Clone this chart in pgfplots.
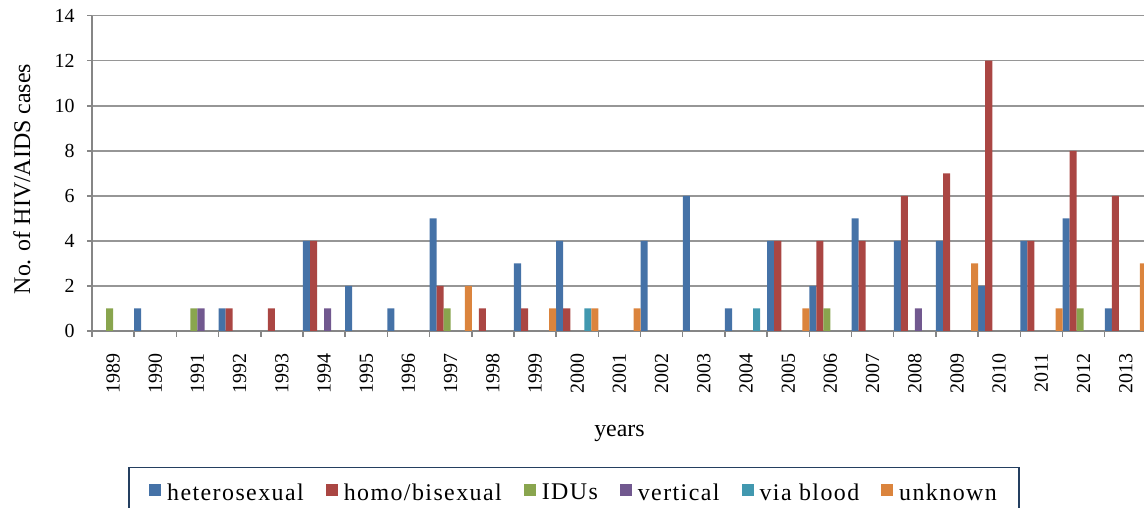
\documentclass[border=0pt]{standalone}
\usepackage{fontspec}
\setmainfont{Liberation Serif}
\newfontfamily\legfont{Liberation Serif}[LetterSpace=6]
\usepackage{pgfplots}
\pgfplotsset{compat=1.18}
\definecolor{cHet}{HTML}{4572A7}
\definecolor{cHom}{HTML}{AA4643}
\definecolor{cIDU}{HTML}{89A54E}
\definecolor{cVer}{HTML}{71588F}
\definecolor{cBlo}{HTML}{4198AF}
\definecolor{cUnk}{HTML}{DB843D}
\definecolor{axgray}{RGB}{134,134,134}
\definecolor{gridgray}{RGB}{150,150,150}
\definecolor{legborder}{HTML}{243F60}
\begin{document}
\begin{tikzpicture}[x=1bp,y=1bp]
\useasboundingbox (0,0) rectangle (1144,508);
\begin{axis}[
  at={(92bp,177bp)}, anchor=south west,
  scale only axis, width=1055bp, height=315.3bp,
  xmin=1988.5, xmax=2013.5, ymin=0, ymax=14,
  ybar=0pt, bar width=7.033bp,
  axis x line*=bottom, axis y line*=left,
  axis line style={axgray, line width=1.5bp},
  xtick={1989,...,2013},
  minor xtick={1988.5,1989.5,...,2013.5},
  ytick={0,2,...,14},
  ymajorgrids, grid style={gridgray, line width=1.5bp},
  tick align=outside,
  major tick length=5bp, minor tick length=6bp,
  tick style={axgray, line width=1.5bp},
  major x tick style={draw=none},
  /pgf/number format/1000 sep={},
  /pgf/number format/assume math mode=true,
  xticklabel style={rotate=90, anchor=east, font=\fontsize{20}{24}\selectfont},
  xticklabel shift=14bp,
  yticklabel style={font=\fontsize{20}{24}\selectfont},
  yticklabel shift=9bp,
  xlabel={years},
  xlabel style={at={(axis description cs:0.5,-0.326)}, anchor=center, font=\fontsize{24}{28}\selectfont},
  ylabel={No. of HIV/AIDS cases},
  ylabel style={at={(axis description cs:-0.0664,0.482)}, anchor=center, font=\fontsize{24}{28}\selectfont},
  legend columns=6,
  legend style={at={(axis description cs:0.4569,-0.4313)}, anchor=north,
    draw=legborder, line width=1.5bp, font=\legfont\fontsize{24}{28}\selectfont,
    inner xsep=20bp, inner ysep=14bp,
    /tikz/every odd column/.append style={column sep=4bp},
    /tikz/every even column/.append style={column sep=20bp}},
  legend image code/.code={\fill[#1] (0bp,-3bp) rectangle (12bp,9bp);},
  every axis plot/.append style={draw=none},
]
\addplot[fill=cHet] coordinates {(1990,1)(1992,1)(1994,4)(1995,2)(1996,1)(1997,5)(1999,3)(2000,4)(2002,4)(2003,6)(2004,1)(2005,4)(2006,2)(2007,5)(2008,4)(2009,4)(2010,2)(2011,4)(2012,5)(2013,1)};
\addplot[fill=cHom] coordinates {(1992,1)(1993,1)(1994,4)(1997,2)(1998,1)(1999,1)(2000,1)(2005,4)(2006,4)(2007,4)(2008,6)(2009,7)(2010,12)(2011,4)(2012,8)(2013,6)};
\addplot[fill=cIDU] coordinates {(1989,1)(1991,1)(1997,1)(2006,1)(2012,1)};
\addplot[fill=cVer] coordinates {(1991,1)(1994,1)(2008,1)};
\addplot[fill=cBlo] coordinates {(2000,1)(2004,1)};
\addplot[fill=cUnk] coordinates {(1997,2)(1999,1)(2000,1)(2001,1)(2005,1)(2009,3)(2011,1)(2013,3)};
\legend{heterosexual,homo/bisexual,IDUs,vertical,via blood,unknown}
\end{axis}
\end{tikzpicture}
\end{document}
